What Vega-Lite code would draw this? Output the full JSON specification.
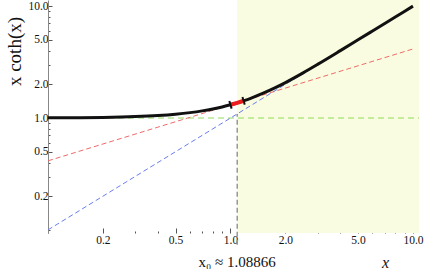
{
  "$schema": "https://vega.github.io/schema/vega-lite/v6.json",
  "width": 371,
  "height": 233,
  "autosize": "none",
  "padding": {"left": 48, "top": 0, "right": 5, "bottom": 36},
  "background": "white",
  "config": {"view": {"stroke": null}, "font": "Liberation Serif"},
  "datasets": {
    "curve": [
      {"x": 0.1, "y": 1.00333}, {"x": 0.15, "y": 1.00749}, {"x": 0.2, "y": 1.0133},
      {"x": 0.3, "y": 1.02982}, {"x": 0.4, "y": 1.05277}, {"x": 0.5, "y": 1.08198},
      {"x": 0.6, "y": 1.11722}, {"x": 0.7, "y": 1.15824}, {"x": 0.8, "y": 1.20475},
      {"x": 0.9, "y": 1.25646}, {"x": 1.0, "y": 1.31304}, {"x": 1.1, "y": 1.37414},
      {"x": 1.2, "y": 1.43945}, {"x": 1.3, "y": 1.5086}, {"x": 1.5, "y": 1.65719},
      {"x": 1.75, "y": 1.85899}, {"x": 2.0, "y": 2.07463}, {"x": 2.5, "y": 2.53392},
      {"x": 3.0, "y": 3.01491}, {"x": 4.0, "y": 4.00268}, {"x": 5.0, "y": 5.00045},
      {"x": 6.0, "y": 6.00007}, {"x": 8.0, "y": 8.0}, {"x": 10.0, "y": 10.0}
    ],
    "seg": [
      {"x": 1.0, "y": 1.31304}, {"x": 1.08866, "y": 1.367}, {"x": 1.18, "y": 1.42633}
    ],
    "segEnds": [
      {"x": 1.0, "y": 1.31304}, {"x": 1.18, "y": 1.42633}
    ],
    "red": [{"x": 0.1, "y": 0.4143}, {"x": 10.0, "y": 4.1426}],
    "blue": [{"x": 0.1, "y": 0.1}, {"x": 10.0, "y": 10.0}],
    "green": [{"x": 0.1, "y": 1.0}, {"x": 10.79, "y": 1.0}],
    "vline": [{"x": 1.08866, "y": 0.0735, "y2": 1.08866}],
    "region": [{"x": 1.08866, "x2": 10.79, "y": 0.0938, "y2": 11.35}],
    "x0label": [{"x": 1.08866, "y": 0.0938, "label": "x₀ ≈ 1.08866"}]
  },
  "layer": [
    {
      "data": {"name": "region"},
      "mark": {"type": "rect", "color": "#f9fce0"},
      "encoding": {
        "x": {"field": "x", "type": "quantitative",
          "scale": {"type": "log", "domain": [0.1, 10.79], "nice": false, "zero": false},
          "axis": {
            "values": [0.1, 0.2, 0.3, 0.4, 0.5, 0.6, 0.7, 0.8, 0.9, 1, 2, 3, 4, 5, 6, 7, 8, 9, 10],
            "labelExpr": "indexof([0.2,0.5,1,2,5,10], datum.value) >= 0 ? format(datum.value, '.1f') : ''",
            "domain": false, "grid": false,
            "tickColor": "#555", "tickWidth": 1,
            "tickSize": {"condition": {"test": "indexof([0.2,0.5,1,2,5,10], datum.value) >= 0", "value": -5}, "value": -2},
            "labelPadding": 6, "labelFontSize": 11.5, "labelColor": "#111",
            "labelFont": "Liberation Serif", "labelFlush": false, "labelOverlap": false,
            "title": "x", "titleFont": "Liberation Serif", "titleFontStyle": "italic",
            "titleFontWeight": "normal", "titleFontSize": 16, "titleColor": "#111",
            "titleX": 337, "titleY": 29, "titleAlign": "center", "titleBaseline": "middle"
          }},
        "x2": {"field": "x2"},
        "y": {"field": "y", "type": "quantitative",
          "scale": {"type": "log", "domain": [0.0938, 11.35], "nice": false, "zero": false},
          "axis": {
            "values": [0.1, 0.2, 0.3, 0.4, 0.5, 0.6, 0.7, 0.8, 0.9, 1, 2, 3, 4, 5, 6, 7, 8, 9, 10],
            "labelExpr": "indexof([0.2,0.5,1,2,5,10], datum.value) >= 0 ? format(datum.value, '.1f') : ''",
            "domainColor": "#888", "grid": false,
            "tickColor": "#555", "tickWidth": 1,
            "tickSize": {"condition": {"test": "indexof([0.2,0.5,1,2,5,10], datum.value) >= 0", "value": -4}, "value": -2},
            "labelPadding": 4, "labelFontSize": 11.5, "labelColor": "#111",
            "labelFont": "Liberation Serif", "labelOverlap": false,
            "title": "x coth(x)", "titleFont": "Liberation Serif", "titleFontStyle": "normal",
            "titleFontWeight": "normal", "titleFontSize": 19, "titleColor": "#111",
            "titleAngle": 270, "titleX": -34, "titleY": 51, "titleAlign": "center", "titleBaseline": "middle"
          }},
        "y2": {"field": "y2"}
      }
    },
    {
      "data": {"name": "vline"},
      "mark": {"type": "rule", "color": "#999", "strokeWidth": 1.5, "strokeDash": [5, 3]},
      "encoding": {
        "x": {"field": "x", "type": "quantitative"},
        "y": {"field": "y", "type": "quantitative"},
        "y2": {"field": "y2"}
      }
    },
    {
      "data": {"name": "green"},
      "mark": {"type": "line", "color": "#8fdc5a", "strokeWidth": 1, "strokeDash": [6, 4]},
      "encoding": {"x": {"field": "x", "type": "quantitative"}, "y": {"field": "y", "type": "quantitative"}}
    },
    {
      "data": {"name": "red"},
      "mark": {"type": "line", "color": "#f06a6a", "strokeWidth": 1, "strokeDash": [5, 3]},
      "encoding": {"x": {"field": "x", "type": "quantitative"}, "y": {"field": "y", "type": "quantitative"}}
    },
    {
      "data": {"name": "blue"},
      "mark": {"type": "line", "color": "#6a7ef0", "strokeWidth": 1, "strokeDash": [5, 3]},
      "encoding": {"x": {"field": "x", "type": "quantitative"}, "y": {"field": "y", "type": "quantitative"}}
    },
    {
      "data": {"name": "curve"},
      "mark": {"type": "line", "color": "#111", "strokeWidth": 3, "interpolate": "monotone"},
      "encoding": {"x": {"field": "x", "type": "quantitative"}, "y": {"field": "y", "type": "quantitative"}}
    },
    {
      "data": {"name": "seg"},
      "mark": {"type": "line", "color": "#ee1c1c", "strokeWidth": 4},
      "encoding": {"x": {"field": "x", "type": "quantitative"}, "y": {"field": "y", "type": "quantitative"}}
    },
    {
      "data": {"name": "segEnds"},
      "mark": {"type": "point", "shape": "M0,-1L0,1", "size": 64, "stroke": "#111", "strokeWidth": 2, "angle": 343, "opacity": 1},
      "encoding": {"x": {"field": "x", "type": "quantitative"}, "y": {"field": "y", "type": "quantitative"}}
    },
    {
      "data": {"name": "x0label"},
      "mark": {"type": "text", "dy": 29, "fontSize": 15, "font": "Liberation Serif", "color": "#111", "baseline": "middle", "align": "center"},
      "encoding": {
        "x": {"field": "x", "type": "quantitative"},
        "y": {"field": "y", "type": "quantitative"},
        "text": {"field": "label"}
      }
    }
  ]
}
